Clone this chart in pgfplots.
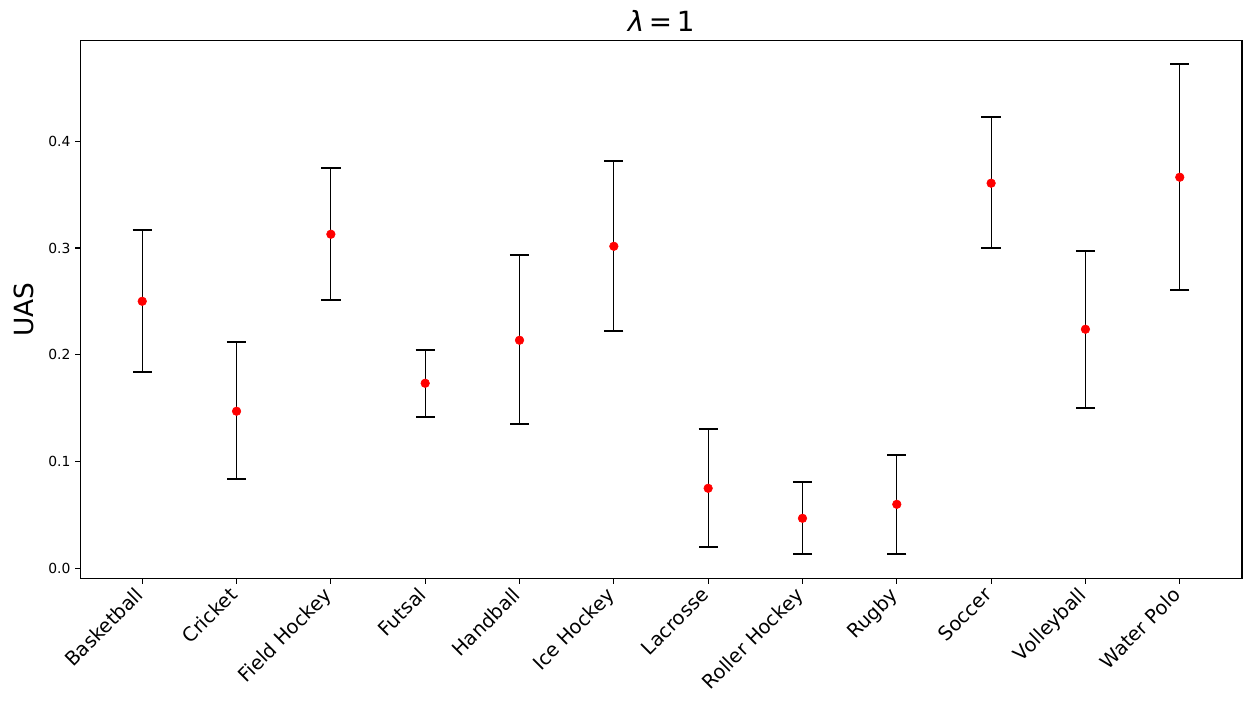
\documentclass[border=0pt]{standalone}
\usepackage{pgfplots}
\pgfplotsset{compat=1.18}
\usepackage{pgfplotstable}
\usepackage{fontspec}
\setmainfont{DejaVu Sans}

\pgfplotstableread{
x y lo hi
0 0.2501 0.1839 0.3172
1 0.1471 0.0840 0.2120
2 0.3129 0.2516 0.3750
3 0.1733 0.1417 0.2048
4 0.2136 0.1355 0.2935
5 0.3016 0.2223 0.3818
6 0.0749 0.0200 0.1305
7 0.0468 0.0137 0.0808
8 0.0599 0.0137 0.1061
9 0.3607 0.3004 0.4228
10 0.2239 0.1502 0.2975
11 0.3663 0.2610 0.4727
}\uas

\begin{document}
\begin{tikzpicture}
\begin{axis}[
    scale only axis,
    width=836.6pt, height=387.9pt,
    xmin=-0.657, xmax=11.66,
    ymin=-0.010, ymax=0.4946,
    xtick=data,
    xticklabels={Basketball, Cricket, Field Hockey, Futsal, Handball, Ice Hockey, Lacrosse, Roller Hockey, Rugby, Soccer, Volleyball, Water Polo},
    xticklabel style={font=\fontsize{14}{16}\selectfont, xshift=-6pt, rotate=45, anchor=north east, inner sep=1pt},
    ytick={0,0.1,0.2,0.3,0.4},
    yticklabel style={font=\fontsize{10}{12}\selectfont, /pgf/number format/.cd, fixed, fixed zerofill, precision=1, assume math mode=true},
    tick align=outside,
    major tick length=3.5pt,
    xtick pos=bottom, ytick pos=left,
    axis line style={line width=0.8pt},
    every tick/.style={black, line width=0.8pt},
    title={\textit{λ}\,=\,1},
    title style={font=\fontsize{20}{24}\selectfont, yshift=-3pt},
    ylabel={UAS},
    ylabel style={font=\fontsize{19}{22}\selectfont, at={(axis description cs:-0.040,0.5)}, anchor=south, inner sep=0pt},
    clip=false,
]
\addplot[draw=none, mark=none,
    error bars/.cd, y dir=both, y explicit,
    error bar style={black, line width=0.8pt},
    error mark options={black, line width=1.5pt, mark size=6.95pt, rotate=90}]
    table[x=x, y=y, y error plus expr=\thisrow{hi}-\thisrow{y}, y error minus expr=\thisrow{y}-\thisrow{lo}] {\uas};
\addplot[only marks, mark=*, mark size=3.1pt, color=red, fill=red] table[x=x, y=y] {\uas};
\end{axis}
\pgfresetboundingbox
\path ([shift={(-57.8pt,-91.4pt)}]current axis.south west) rectangle ([shift={(7.2pt,29pt)}]current axis.north east);
\end{tikzpicture}
\end{document}
